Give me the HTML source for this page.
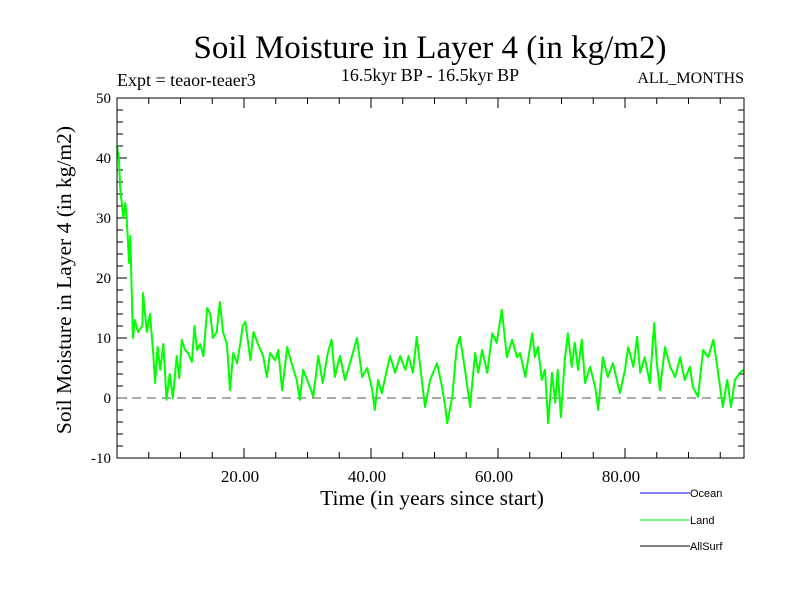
<!DOCTYPE html>
<html><head><meta charset="utf-8"><style>
body{margin:0;background:#fff}
svg text{font-family:"Liberation Serif",serif;fill:#000}
svg text.sans{font-family:"Liberation Sans",sans-serif}
</style></head><body>
<svg width="800" height="600" xmlns="http://www.w3.org/2000/svg">
<rect width="800" height="600" fill="#fff"/>
<text x="430" y="58" font-size="33" text-anchor="middle">Soil Moisture in Layer 4 (in kg/m2)</text>
<text x="117" y="86" font-size="18">Expt = teaor-teaer3</text>
<text x="430" y="81" font-size="18" text-anchor="middle">16.5kyr BP - 16.5kyr BP</text>
<text x="744" y="83" font-size="16" text-anchor="end">ALL_MONTHS</text>
<text transform="translate(71,280) rotate(-90)" font-size="21.5" text-anchor="middle">Soil Moisture in Layer 4 (in kg/m2)</text>
<text x="432" y="505" font-size="21.5" text-anchor="middle">Time (in years since start)</text>
<g id="axes"></g>
<g id="series"></g>
<rect x="117" y="98" width="627" height="360" fill="none" stroke="#000" stroke-width="1"/>
<g>
<line x1="640" y1="493" x2="690" y2="493" stroke="#0000ff"/>
<text class="sans" x="690" y="497" font-size="11">Ocean</text>
<line x1="640" y1="520" x2="690" y2="520" stroke="#00ff00"/>
<text class="sans" x="690" y="524" font-size="11">Land</text>
<line x1="640" y1="546" x2="690" y2="546" stroke="#000"/>
<text class="sans" x="690" y="550" font-size="11">AllSurf</text>
</g>
</svg>
<script>
const times=[0,0.3,0.5,1,1.3,1.5,1.9,2.1,2.5,2.8,3.3,4,4.1,4.7,5.2,5.7,6,6.4,6.8,7.3,7.8,8.3,8.8,9.4,9.8,10.2,10.7,11.2,11.8,12.2,12.6,13.1,13.6,14.2,14.7,15.1,15.7,16.2,16.7,17.3,17.8,18.3,18.9,19.4,19.8,20.2,21,21.5,22.2,23,23.6,24.1,24.9,25.4,26,26.8,27.5,28.3,28.8,29.3,30.4,30.9,31.7,32.4,33.2,33.8,34.3,35.1,35.9,36.7,37.8,38.6,39.4,40.2,40.6,41.1,41.7,42.5,43,43.8,44.6,45.4,45.9,46.6,47.2,48,48.5,49.3,50.4,51.2,51.7,52,52.8,53.5,54,54.8,55.6,56.4,56.9,57.5,58.3,59.1,59.8,60.6,61.4,62.2,63,63.5,64.3,65.4,65.8,66.3,66.9,67.4,67.9,68.5,69,69.4,69.9,70.5,71,71.6,72.1,72.6,73.2,73.7,74.5,75.3,75.8,76.5,77.3,78.1,79.2,80,80.5,81.3,81.9,82.4,83.1,83.9,84.6,85,85.5,86.3,87.1,87.9,88.7,89.4,90.2,90.7,91.5,92.3,93.1,93.9,94.6,95.4,96.1,96.7,97.3,98.1,98.7];
const values=[42,40,35,30,32.5,30.5,22.5,27,10,13,11,12,17.5,11,14,7.5,2.5,8.5,4.7,9,-0.3,4,0,7,3.3,9.7,8,7.5,6,12,8,9,7,15,14,10,11,16,11,9,1.3,7.5,5.8,9,12,12.7,6.3,11,9,7,3.5,7.5,6.3,8,1.3,8.5,5.8,3,-0.3,4.7,1.8,0.2,7,2.5,7.5,9.7,3.5,7,3,5.8,10,3.5,5,1.3,-2,3,0.8,4.7,7,4.2,7,4.7,7,4.2,10.2,3,-1.5,3,5.8,1.8,-1.5,-4.2,0.2,8.5,10.2,4.7,-1.5,7.5,4.2,8,4.2,10.8,9.2,14.7,6.8,9.7,6.8,7.5,3.5,10.8,6.8,8.5,3,4.7,-4.2,4.2,-0.8,4.7,-3.2,6.3,10.8,5.2,9.2,4.7,9.7,2.5,5.2,1.8,-2,6.8,3.5,5.8,0.8,4.7,8.5,5.2,10.2,4.2,6.8,2.5,12.5,5.8,1.3,8.5,5.2,3.5,6.8,3,5.2,1.8,0.2,8,6.8,9.7,4.7,-1.5,3,-1.5,3,4.2,4.7];
const xTickLabels=["20.00","40.00","60.00","80.00"];
const xTickVals=[20,40,60,80];
const yTickVals=[-10,0,10,20,30,40,50];
const X0=117,X1=744,Y0=458,Y1=98,xmin=0,xmax=98.74,ymin=-10,ymax=50;
const NS='http://www.w3.org/2000/svg';
function sx(t){return X0+(t-xmin)/(xmax-xmin)*(X1-X0);}
function sy(v){return Y0-(v-ymin)/(ymax-ymin)*(Y0-Y1);}
const axes=document.getElementById('axes');
function mk(tag,attrs,parent){const e=document.createElementNS(NS,tag);for(const k in attrs)e.setAttribute(k,attrs[k]);parent.appendChild(e);return e;}
for(let t=5;t<xmax;t+=5){const major=t%20===0;const L=major?10:6;const x=sx(t);
const a=mk('line',{x1:x,x2:x,y1:Y0,y2:Y0-L,stroke:'#000'},axes);


const b=mk('line',{x1:x,x2:x,y1:Y1,y2:Y1+L,stroke:'#000'},axes);

}
xTickVals.forEach((v,i)=>{const t=mk('text',{x:sx(v)-4,y:Y0+24,'font-size':17,'text-anchor':'middle'},axes);t.textContent=xTickLabels[i];

});
for(let v=ymin+2;v<ymax;v+=2){const major=v%10===0;const L=major?10:6;const y=sy(v);
const a=mk('line',{x1:X0,x2:X0+L,y1:y,y2:y,stroke:'#000'},axes);


const b=mk('line',{x1:X1,x2:X1-L,y1:y,y2:y,stroke:'#000'},axes);

}
yTickVals.forEach(v=>{const t=mk('text',{x:X0-6,y:sy(v)+5,'font-size':15,'text-anchor':'end'},axes);t.textContent=String(v);

});
const z=mk('line',{x1:X0,x2:X1,y1:sy(0),y2:sy(0),stroke:'#555','stroke-dasharray':'9,6'},axes);


const d=times.map((t,i)=>(i?'L':'M')+sx(t).toFixed(1)+','+sy(values[i]).toFixed(1)).join(' ');
const p=mk('path',{d:d,fill:'none',stroke:'#00ff00','stroke-width':2,'stroke-linejoin':'round'},document.getElementById('series'));


</script>
</body></html>
